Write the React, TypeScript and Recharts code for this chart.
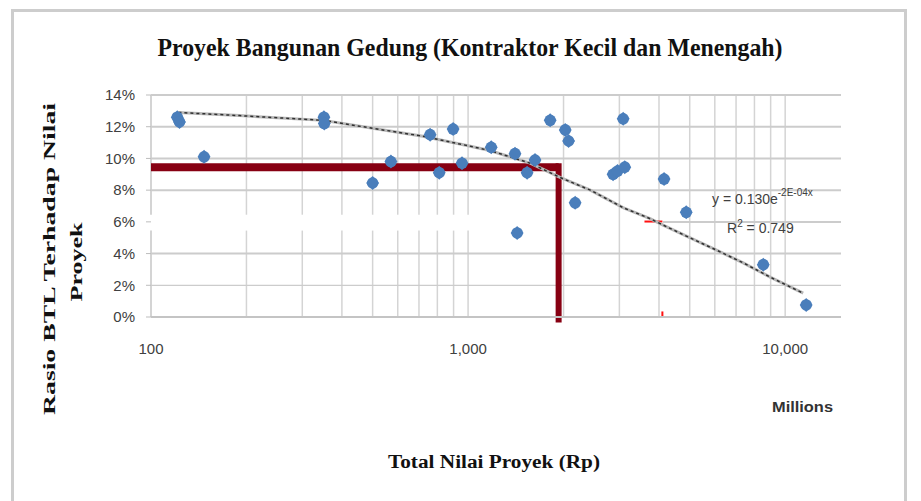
import React from 'react';
import {
  ScatterChart, Scatter, XAxis, YAxis, ReferenceLine,
} from 'recharts';

// project value (Rp, millions) and BTL ratio (%)
const PROJECT_VALUE = [121, 123, 147, 351, 352, 500, 571, 759, 811, 897, 957, 1183, 1406, 1428, 1535, 1626, 1815, 2025, 2075, 2176, 2866, 2960, 3120, 3084, 4150, 4875, 8530, 11650];
const BTL_RATIO = [12.6, 12.3, 10.1, 12.6, 12.2, 8.45, 9.8, 11.5, 9.1, 11.85, 9.7, 10.7, 10.3, 5.3, 9.1, 9.9, 12.4, 11.8, 11.1, 7.2, 9.0, 9.2, 9.45, 12.5, 8.7, 6.6, 3.3, 0.76];

// exponential trendline as drawn
const TREND_X = [122, 190, 350, 500, 720, 1000, 1170, 1570, 1950, 2430, 3080, 3750, 4120, 5000, 6100, 7400, 9000, 11400];
const TREND_Y = [12.9, 12.7, 12.4, 11.9, 11.4, 10.8, 10.5, 9.7, 8.8, 8.0, 6.9, 6.2, 5.8, 5.0, 4.2, 3.4, 2.5, 1.5];

const X_TICKS = [100, 1000, 10000];
const Y_TICKS = [0, 2, 4, 6, 8, 10, 12, 14];
const GRID_X = [100, 200, 300, 400, 500, 600, 700, 800, 900, 1000, 2000, 3000, 4000, 5000, 6000, 7000, 8000, 9000, 10000];
const GRID_Y = [2, 4, 8, 10, 12, 14];

// the original picture has a blank band round 6% on its left part
const GAP_LOW = 5.45;
const GAP_HIGH = 6.45;
const GRID6_START = 3600;

// hand-drawn guide (value ~1,930 -> ratio ~9.45%)
const GUIDE_X = 1930;
const GUIDE_Y = 9.45;

const points = PROJECT_VALUE.map((x, i) => ({ x, y: BTL_RATIO[i] }));
const trend = TREND_X.map((x, i) => ({ x, y: TREND_Y[i] }));

const BLUE = '#4A7EBB';
const MAROON = '#870012';
const GRID = '#d4d4d4';

const Marker = (props: any) => {
  const { cx, cy } = props;
  if (cx == null || cy == null) return <g />;
  return (
    <g>
      <polygon points={`${cx},${cy - 7} ${cx + 6.5},${cy} ${cx},${cy + 7} ${cx - 6.5},${cy}`} fill={BLUE} />
      <circle cx={cx} cy={cy} r={5.8} fill={BLUE} />
    </g>
  );
};

const fmtX = (v: number) => v.toLocaleString('en-US');
const tickStyle = { fill: '#404040', fontSize: 15, fontFamily: 'Liberation Sans' };

export default function App() {
  return (
    <div style={{ position: 'absolute', left: 0, top: 0, width: 921, height: 501, background: '#fff' }}>
      <div style={{ position: 'absolute', left: 0, top: 0 }}>
        <ScatterChart width={921} height={501} margin={{ top: 95, right: 80, bottom: 154, left: 91 }}>
          <XAxis
            type="number" dataKey="x" scale="log" domain={[100, 15000]} allowDataOverflow
            ticks={X_TICKS} tickFormatter={fmtX} tick={tickStyle}
            tickLine={false} tickSize={0} tickMargin={26} height={30}
            axisLine={{ stroke: '#c4c4c4', strokeWidth: 2 }}
          />
          <YAxis
            type="number" dataKey="y" domain={[0, 14]} ticks={Y_TICKS} tickFormatter={(v) => `${v}%`}
            tick={tickStyle} tickSize={5} tickMargin={11} width={60}
            tickLine={{ stroke: '#bdbdbd' }} axisLine={false}
          />
          {GRID_X.map((v) =>
            v < GUIDE_X ? (
              <React.Fragment key={`gx${v}`}>
                <ReferenceLine segment={[{ x: v, y: 0 }, { x: v, y: GAP_LOW }]} stroke={GRID} strokeWidth={v === 100 ? 2 : 1.5} />
                <ReferenceLine segment={[{ x: v, y: GAP_HIGH }, { x: v, y: 14 }]} stroke={GRID} strokeWidth={v === 100 ? 2 : 1.5} />
              </React.Fragment>
            ) : (
              <ReferenceLine key={`gx${v}`} x={v} stroke={GRID} strokeWidth={1.5} />
            )
          )}
          {GRID_Y.map((v) => (
            <ReferenceLine key={`gy${v}`} y={v} stroke="#cccccc" strokeWidth={v === 2 ? 1.2 : 2} />
          ))}
          <ReferenceLine segment={[{ x: GRID6_START, y: 6.02 }, { x: 4100, y: 6.02 }]} stroke="#ff1010" strokeWidth={2} ifOverflow="visible" />
          <ReferenceLine segment={[{ x: 4100, y: 0 }, { x: 4100, y: 0.35 }]} stroke="#ff1010" strokeWidth={2} ifOverflow="visible" />
          <Scatter
            data={trend} line={{ stroke: '#b8b8b8', strokeWidth: 3 }} lineType="joint"
            shape={() => <g />} isAnimationActive={false}
          />
          <Scatter
            data={trend} line={{ stroke: '#303030', strokeWidth: 1.5, strokeDasharray: '3 3' }} lineType="joint"
            shape={() => <g />} isAnimationActive={false}
          />
          <Scatter data={points} shape={Marker} isAnimationActive={false} />
          <ReferenceLine segment={[{ x: 100, y: GUIDE_Y }, { x: GUIDE_X, y: GUIDE_Y }]} stroke={MAROON} strokeWidth={8} ifOverflow="visible" />
          <ReferenceLine segment={[{ x: GUIDE_X, y: GUIDE_Y + 0.25 }, { x: GUIDE_X, y: -0.35 }]} stroke={MAROON} strokeWidth={6} ifOverflow="visible" />
        </ScatterChart>
      </div>
      <svg width={921} height={501} style={{ position: 'absolute', left: 0, top: 0, pointerEvents: 'none' }}>
        <rect x={12.5} y={10.5} width={893} height={520} fill="none" stroke="#cdcdcd" strokeWidth={3} />
        {/* right-hand piece of the 6% gridline */}
        <line x1={663} y1={222} x2={841} y2={222} stroke="#cccccc" strokeWidth={2} />
        <text x={470} y={56} textAnchor="middle" fontFamily="Liberation Serif" fontWeight="bold" fontSize={25}
          textLength={625} lengthAdjust="spacingAndGlyphs" fill="#111">
          Proyek Bangunan Gedung (Kontraktor Kecil  dan Menengah)
        </text>
        <text transform="translate(55,259) rotate(-90)" textAnchor="middle" fontFamily="Liberation Serif"
          fontWeight="bold" fontSize={17} textLength={312} lengthAdjust="spacingAndGlyphs" fill="#111">
          Rasio BTL Terhadap Nilai
        </text>
        <text transform="translate(82,262) rotate(-90)" textAnchor="middle" fontFamily="Liberation Serif"
          fontWeight="bold" fontSize={17} textLength={79} lengthAdjust="spacingAndGlyphs" fill="#111">
          Proyek
        </text>
        <text x={494} y={468} textAnchor="middle" fontFamily="Liberation Serif" fontWeight="bold" fontSize={18}
          textLength={212} lengthAdjust="spacingAndGlyphs" fill="#111">
          Total Nilai Proyek (Rp)
        </text>
        <text x={772} y={412} fontFamily="Liberation Sans" fontWeight="bold" fontSize={15}
          textLength={61} lengthAdjust="spacingAndGlyphs" fill="#333">
          Millions
        </text>
        <text x={712} y={204} fontFamily="Liberation Sans" fontSize={14} fill="#404040">
          y = 0.130e
          <tspan dy={-8} fontSize={10}>-2E-04x</tspan>
        </text>
        <text x={727} y={233} fontFamily="Liberation Sans" fontSize={14} fill="#404040">
          R<tspan dy={-6} fontSize={10}>2</tspan><tspan dy={6}> = 0.749</tspan>
        </text>
      </svg>
    </div>
  );
}
